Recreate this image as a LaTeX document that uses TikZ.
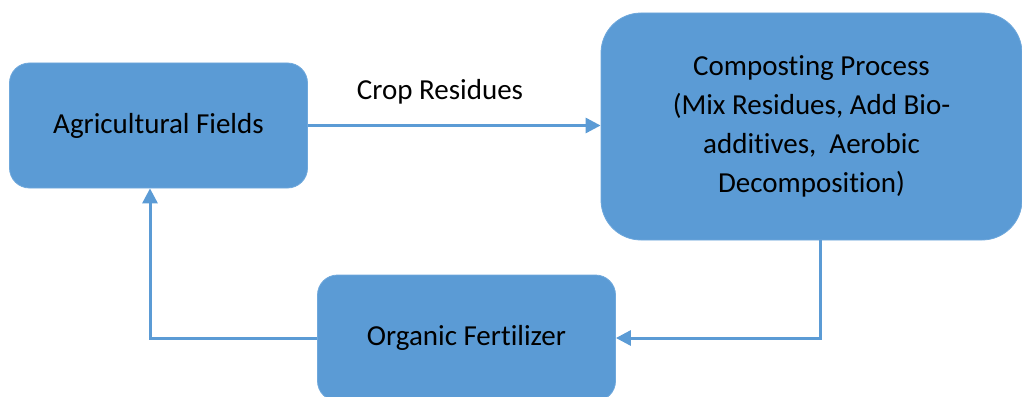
\documentclass[tikz,border=0pt]{standalone}
\usepackage{fontspec}
\setmainfont{Carlito}[Ligatures={NoCommon}]
\usetikzlibrary{arrows.meta}
\definecolor{boxblue}{HTML}{5B9BD5}
\definecolor{boxedge}{HTML}{6FA8DC}
\begin{document}
\begin{tikzpicture}[x=1pt,y=-1pt,
  box/.style={rectangle, fill=boxblue, draw=boxedge, line width=0.8pt,
    inner sep=0pt, align=center, text=black,
    font=\fontsize{29}{39}\selectfont},
  flow/.style={draw=boxblue, line width=3pt,
    -{Triangle[length=15pt,width=15pt]}},
  lab/.style={text=black, font=\fontsize{29}{39}\selectfont}]
\useasboundingbox (0,0) rectangle (1022,396);
\clip (0,0) rectangle (1022,396);

% process boxes
\node[box, rounded corners=20pt, minimum width=298pt, minimum height=125pt]
  (fields) at (158.5,125.5) {Agricultural Fields};
\node[box, rounded corners=40pt, minimum width=421pt, minimum height=227pt]
  (compost) at (811.5,126.5)
  {Composting Process\\(Mix Residues, Add Bio-\\additives,\ \ Aerobic\\Decomposition)};
\node[box, rounded corners=20pt, minimum width=298pt, minimum height=126pt]
  (fert) at (466.5,338) {Organic Fertilizer};

% connectors
\draw[flow] (fields.east) -- (fields.east -| compost.west);
\node[lab] (residues) at (440,92) {Crop Residues};
\draw[flow] ([xshift=8.5pt]compost.south) |- (fert.east);
\draw[flow] (fert.west) -| ([xshift=-8.5pt]fields.south);
\end{tikzpicture}
\end{document}
